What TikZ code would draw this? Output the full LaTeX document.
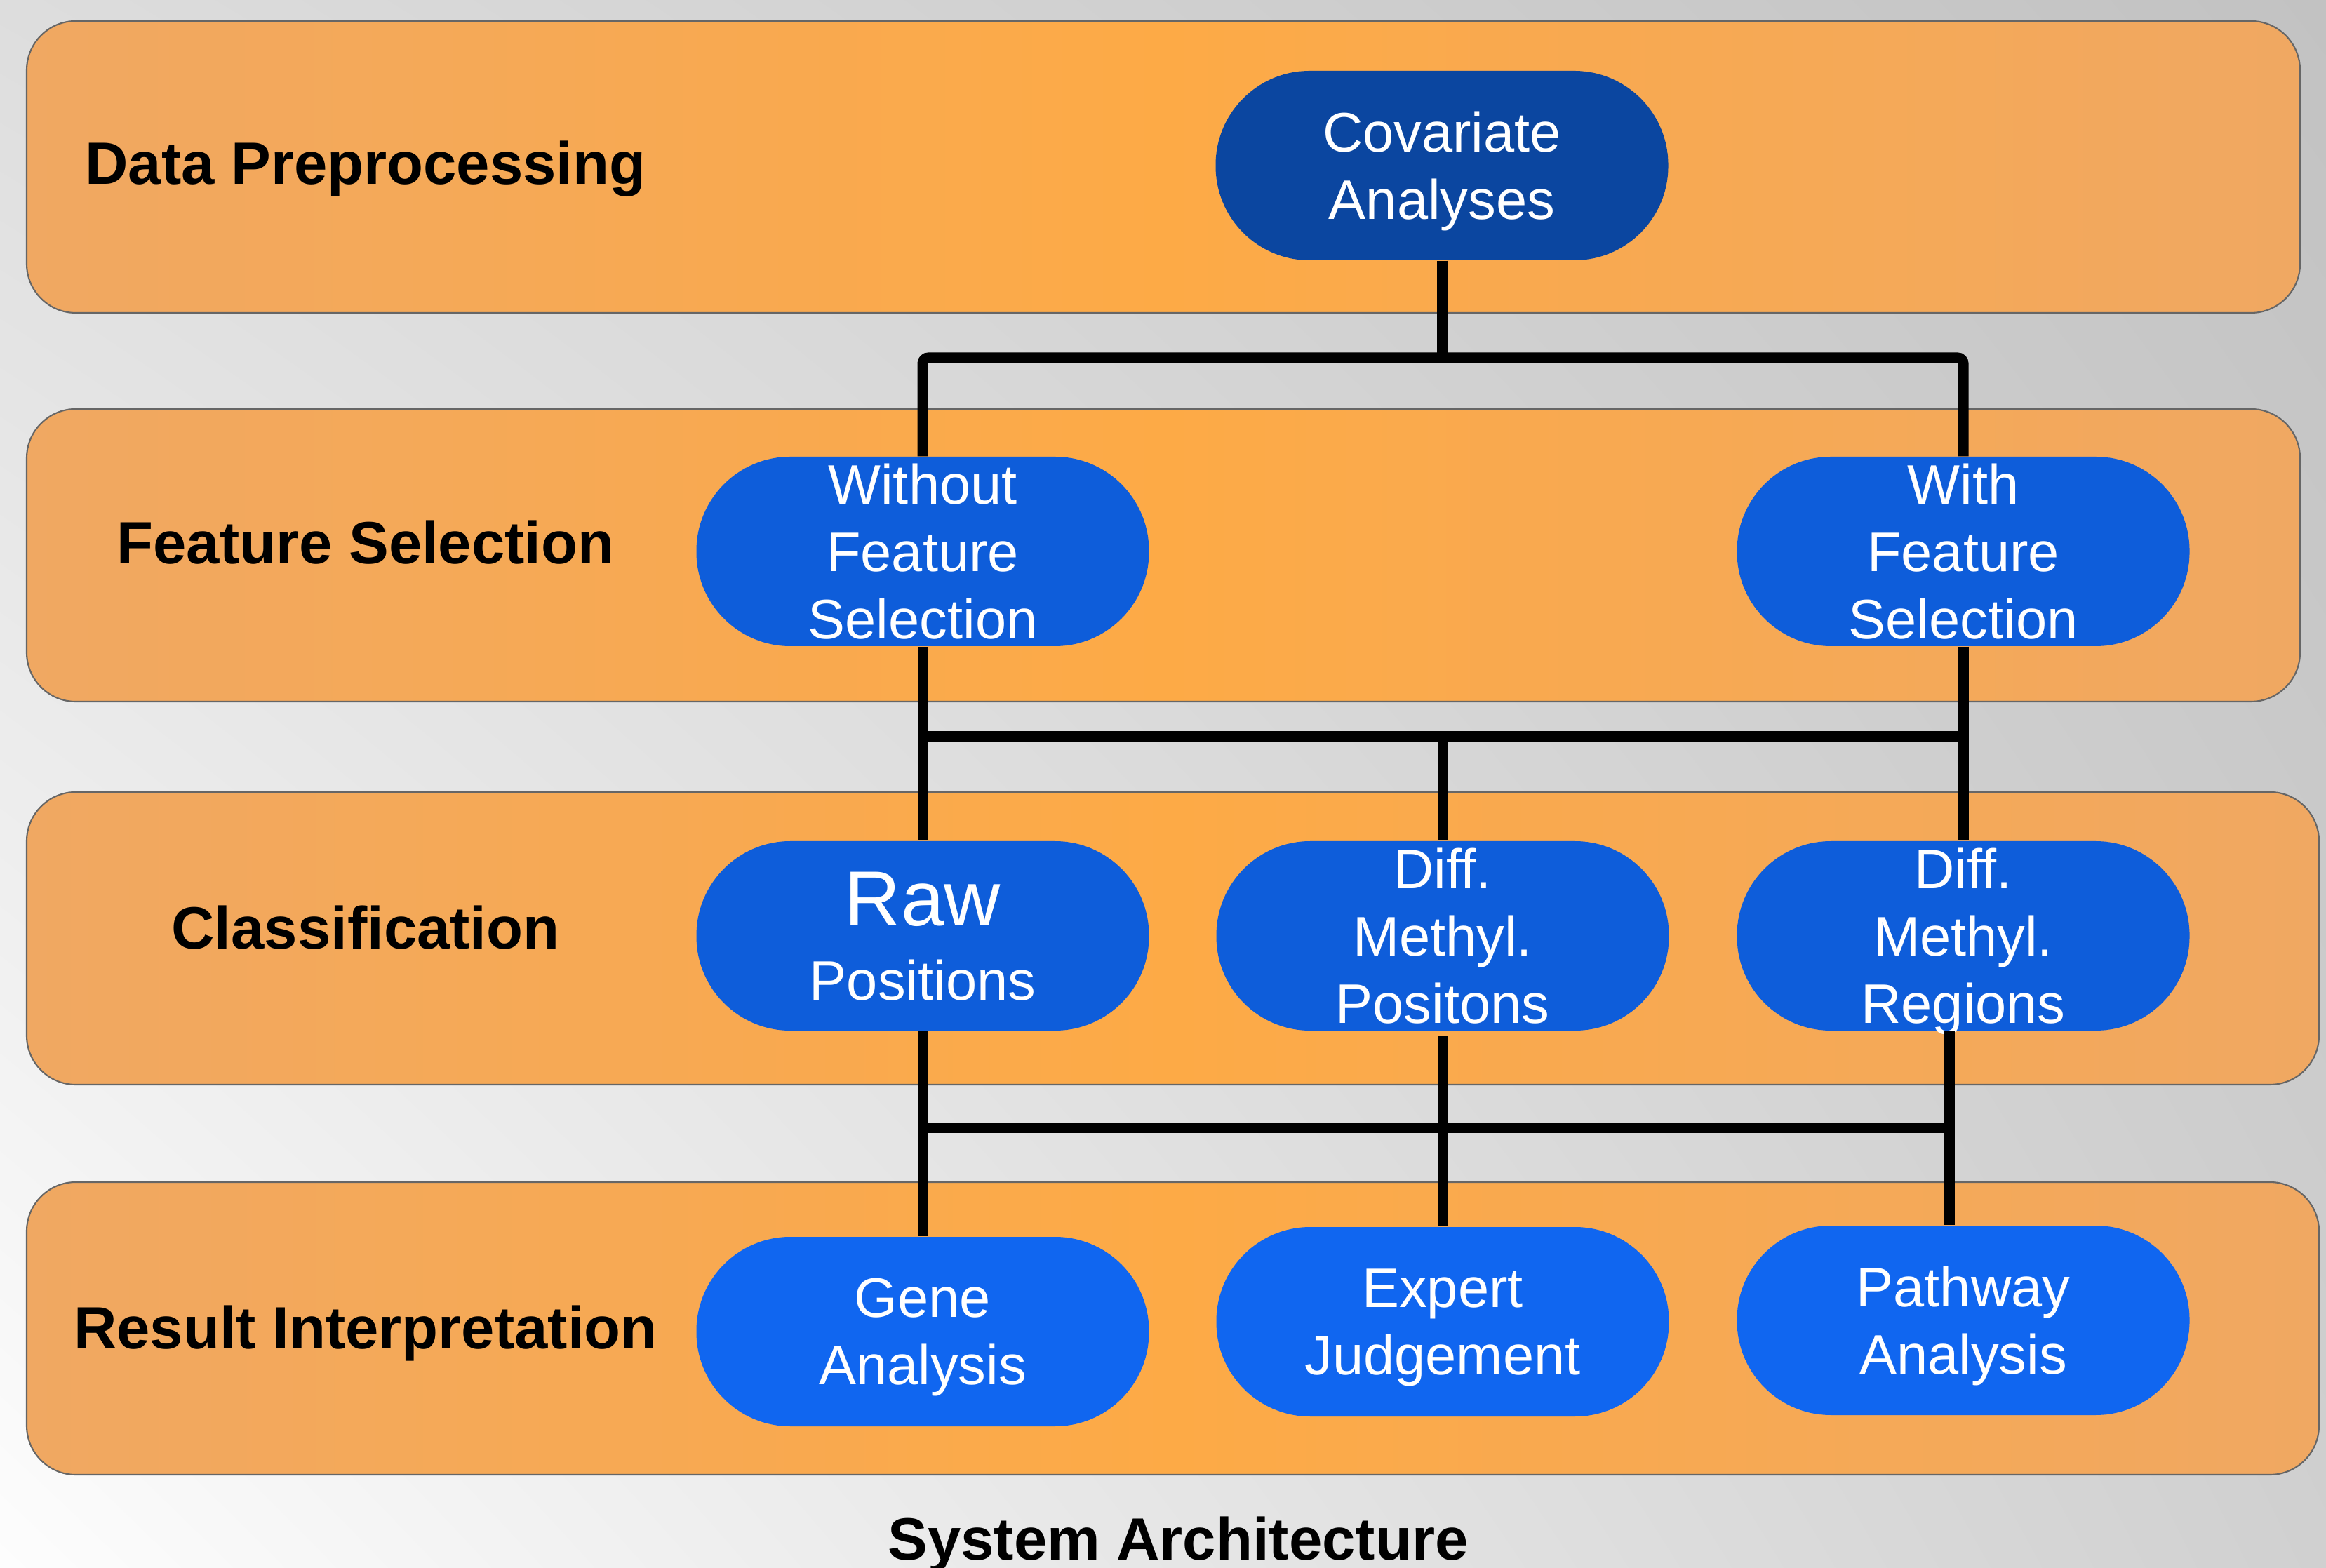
\documentclass[tikz,border=0pt]{standalone}
\usepackage{fontspec}
\setmainfont{Liberation Sans}
\usepackage{tikz}
\usetikzlibrary{shadings}
\definecolor{bgTL}{RGB}{221,221,221}
\definecolor{bgTR}{RGB}{194,194,194}
\definecolor{bgBL}{RGB}{253,253,253}
\definecolor{bgBR}{RGB}{208,208,208}
\definecolor{bandside}{RGB}{240,168,98}
\definecolor{bandmid}{RGB}{253,170,70}
\definecolor{covblue}{RGB}{11,70,160}
\definecolor{selblue}{RGB}{14,93,218}
\definecolor{resblue}{RGB}{16,102,240}

\begin{document}
\begin{tikzpicture}[
    band/.style={left color=bandside, right color=bandside, middle color=bandmid,
      draw=black!60, line width=0.6pt, rounded corners=0.7cm},
    stage/.style={anchor=base, inner sep=0pt, font=\fontsize{24.2}{29}\selectfont\bfseries},
    proc/.style={rectangle, minimum width=6.45cm, minimum height=2.7cm, rounded corners=1.34cm,
      inner sep=0pt, text=white, align=center, text depth=0pt,
      font=\fontsize{22.6}{27.3}\selectfont},
    link/.style={line width=0.15cm, black}]
  \useasboundingbox (0,0) rectangle (33.15,22.34);
  \shade[upper left=bgTL, upper right=bgTR, lower left=bgBL, lower right=bgBR]
    (0,0) rectangle (33.15,22.34);

  \path[band] (0.38,17.88) rectangle (32.78,22.04);
  \path[band] (0.38,12.34) rectangle (32.78,16.51);
  \path[band] (0.38,6.88)  rectangle (33.05,11.05);
  \path[band] (0.38,1.32)  rectangle (33.05,5.49);

  \node[stage] (lpre)   at (5.21,19.71) {Data Preprocessing};
  \node[stage] (lfeat)  at (5.21,14.30) {Feature Selection};
  \node[stage] (lclass) at (5.21,8.81)  {Classification};
  \node[stage] (lres)   at (5.21,3.12)  {Result Interpretation};
  \node[stage] (title)  at (16.79,0.11) {System Architecture};

  \node[proc, fill=covblue] (cov)    at (20.55,19.98) {Covariate\\Analyses};
  \node[proc, fill=selblue] (wofs)   at (13.15,14.48) {Without\\Feature\\Selection};
  \node[proc, fill=selblue] (wfs)    at (27.98,14.48) {With\\Feature\\Selection};
  \node[proc, fill=selblue] (raw)    at (13.15,9.00)  {{\fontsize{31.6}{36}\selectfont Raw}\\[0.1cm]Positions};
  \node[proc, fill=selblue] (dmp)    at (20.56,9.00)  {Diff.\\Methyl.\\Positons};
  \node[proc, fill=selblue] (dmr)    at (27.98,9.00)  {Diff.\\Methyl.\\Regions};
  \node[proc, fill=resblue] (gene)   at (13.15,3.36)  {Gene\\Analysis};
  \node[proc, fill=resblue] (expert) at (20.56,3.50)  {Expert\\Judgement};
  \node[proc, fill=resblue] (pathw)  at (27.98,3.52)  {Pathway\\Analysis};

  \coordinate (split1) at (20.55,17.24);
  \coordinate (split2) at (20.56,11.84);
  \coordinate (split3) at (20.56,6.27);

  \draw[link] (cov.south) -- (split1);
  \draw[link, rounded corners=0.08cm] (wofs.north) |- (split1) -| (wfs.north);

  \draw[link] (wofs.south) -- (raw.north);
  \draw[link] (wfs.south) -- (dmr.north);
  \draw[link] (wofs.south |- split2) -- (wfs.south |- split2);
  \draw[link] (split2) -- (dmp.north);

  \draw[link] (raw.south) -- (gene.north);
  \draw[link] ([yshift=-0.06cm]dmp.south) -- (expert.north);
  \draw[link] ([xshift=-0.2cm]dmr.south) -- ([xshift=-0.2cm]pathw.north);
  \draw[link] (raw.south |- split3) -- ([xshift=-0.2cm]dmr.south |- split3);
\end{tikzpicture}
\end{document}
